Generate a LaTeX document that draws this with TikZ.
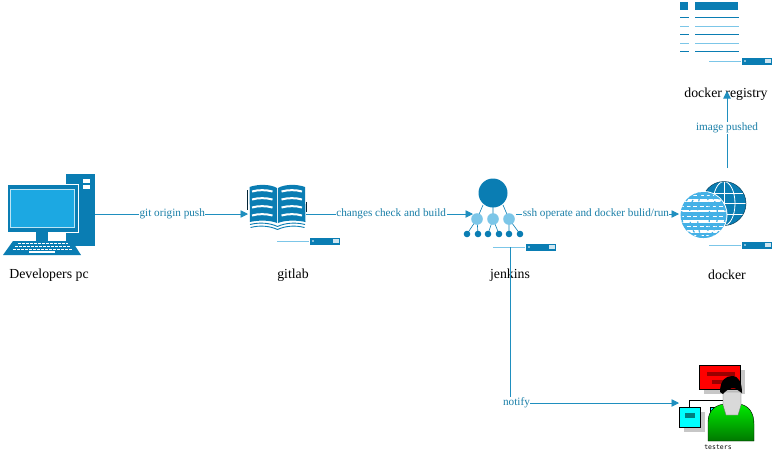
\documentclass[tikz,border=0pt]{standalone}
\usepackage{fontspec}
\setmainfont{Liberation Serif}
\newfontfamily\tinymono{DejaVu Sans Mono}
\usetikzlibrary{arrows.meta,shadings}
\definecolor{dkblue}{HTML}{0A7DB3}
\definecolor{ltblue}{HTML}{7CC6E8}
\definecolor{scrblue}{HTML}{1CA8E2}
\definecolor{globelt}{HTML}{45B1E6}
\definecolor{wire}{HTML}{1F8FBF}
\definecolor{labelc}{HTML}{1A7FA8}
\definecolor{purecyan}{RGB}{0,255,255}
\definecolor{purered}{RGB}{255,0,0}
\definecolor{puregreen}{RGB}{0,235,0}
\definecolor{darkgreen}{RGB}{0,120,0}
\tikzset{
  anchorbox/.style={inner sep=0pt,outer sep=0pt},
  title/.style={font=\fontsize{13.8}{15}\selectfont,text=black,inner sep=0pt},
  wirelink/.style={draw=wire,line width=0.9pt,-{Triangle[length=7.5pt,width=7.5pt]}},
  wirelabel/.style={font=\fontsize{11.2}{12}\selectfont,text=labelc,fill=white,inner sep=0.5pt},
  srvline/.style={draw=ltblue,line width=1pt},
  srvbox/.style={fill=dkblue},
}
\newcommand{\srvicon}[2]{% left of line, y
  \draw[srvline] (#1,#2) -- +(32,0);
  \fill[srvbox] (#1+33,#2-3.5) rectangle +(29.5,7);
  \fill[white] (#1+36,#2) circle (0.8);
  \fill[white!80!dkblue] (#1+55.5,#2-1.6) rectangle +(6,1.2);
  \fill[white!80!dkblue] (#1+55.5,#2+0.4) rectangle +(6,1.2);
}
\begin{document}
\begin{tikzpicture}[x=1pt,y=-1pt]
\useasboundingbox (0,0) rectangle (776,456);
\fill[white] (0,0) rectangle (776,456);

% ---------- PC
\fill[dkblue] (66,174) rectangle (95,246);
\fill[white] (83,179) rectangle (90,182.5);
\fill[white] (83,185) rectangle (90,188.5);
\fill[dkblue,draw=white,line width=0.7pt] (7,184) rectangle (78.5,232);
\fill[scrblue,draw=white!70!scrblue,line width=0.8pt] (10.5,189) rectangle (74,227);
\fill[dkblue] (36,232) rectangle (48,241);
\fill[dkblue] (13,241) -- (72,241) -- (81,255) -- (3,255) -- cycle;
\foreach \yy/\xa/\xb in {243.5/18/68,246.5/15/71,249.5/13/73}
  \draw[white,line width=1.5pt,dash pattern=on 3pt off 1pt] (\xa,\yy) -- (\xb,\yy);
\fill[white] (29,250.5) rectangle (55,252.5);

% ---------- Book
\fill[dkblue] (249.5,187) .. controls (258,184) and (270,184) .. (277,188) -- (277,223) .. controls (270,220) and (258,220) .. (250,222) -- cycle;
\fill[dkblue] (278,188) .. controls (285,184) and (297,184) .. (305,187) -- (305.5,222) .. controls (297,220) and (285,220) .. (278,223) -- cycle;
\foreach \yy in {191.5,199.5,207.5,215.5} {
  \draw[white,line width=2pt] (252,\yy) .. controls (258,\yy-1.8) and (266,\yy-1.8) .. (272.5,\yy);
  \draw[white,line width=2pt] (281.5,\yy) .. controls (288,\yy-1.8) and (296,\yy-1.8) .. (302,\yy);
}
\draw[dkblue,line width=0.9pt] (250,224.5) .. controls (260,222) and (270,223) .. (277.5,226.5) .. controls (285,223) and (295,222) .. (305,224.5);
\draw[dkblue,line width=0.9pt] (250.5,227.5) .. controls (260,225) and (270,226) .. (277.5,229.5) .. controls (285,226) and (295,225) .. (304.5,227.5);
\draw[black!70!dkblue,line width=1pt] (247.5,190) -- (247.5,210);
\draw[black!70!dkblue,line width=1pt] (306.5,202) -- (306.5,212);
\srvicon{277}{241}

% ---------- Jenkins
\draw[dkblue,line width=0.6pt]
  (483,205) -- (477,219) (493,205) -- (493,219) (503,205) -- (509,219)
  (477,219) -- (467,234) (477,219) -- (478,234)
  (493,219) -- (488,234) (493,219) -- (499,234)
  (509,219) -- (509,234) (509,219) -- (520,234);
\fill[dkblue] (493,193) circle (14.5);
\foreach \xx in {477,493,509} \fill[ltblue] (\xx,219) circle (5.8);
\foreach \xx in {467,478,488,499,509,520} \fill[dkblue] (\xx,234) circle (3.3);
\srvicon{493}{247}

% ---------- Docker globes
\begin{scope}
  \fill[dkblue] (724,203.5) circle (22);
  \clip (724,203.5) circle (22);
  \draw[white,line width=0.8pt] (724,181) -- (724,226) (702,203.5) -- (746,203.5);
  \draw[white,line width=0.8pt] (702,193) -- (746,193) (702,214) -- (746,214);
  \draw[white,line width=0.8pt] (724,203.5) ellipse [x radius=11,y radius=22];
\end{scope}
\draw[black!50!dkblue,line width=0.5pt] (724,203.5) circle (22);
\begin{scope}
  \fill[white] (703.5,215) circle (24);
  \fill[globelt] (703.5,215) circle (23);
  \clip (703.5,215) circle (23);
  \foreach \yy in {200.5,211,221.5,231.5}
    \draw[white,line width=2.6pt] (680,\yy) -- (727,\yy);
  \foreach \yy in {195,206,216,226,235}
    \draw[white,line width=1pt,dash pattern=on 4pt off 2.5pt] (680,\yy) -- (727,\yy);
  \foreach \rr in {6,14,22}
    \draw[globelt,line width=1.2pt,dash pattern=on 2.5pt off 2pt] (703.5,215) ellipse [x radius=\rr,y radius=23];
\end{scope}
\srvicon{709}{245}

% ---------- Registry
\fill[dkblue] (680,2) rectangle (688,10);
\fill[dkblue] (695,2) rectangle (738,10);
\foreach \yy/\cl in {17/dkblue,26/ltblue,34/dkblue,43/ltblue,51/dkblue} {
  \draw[\cl,line width=1pt] (680,\yy) -- (689,\yy);
  \draw[\cl,line width=1pt] (695,\yy) -- (739,\yy);
}
\srvicon{709}{61}

% ---------- Testers
\fill[black!22] (704,370) rectangle (745,394);
\fill[purered,draw=black,line width=0.5pt] (699.5,365.5) rectangle (740.5,389);
\fill[purered!60!black] (707,372) rectangle (735,376);
\fill[purered!60!black] (712,380) rectangle (730,384);
\draw[black,line width=0.6pt] (689,407) -- (689,400) -- (725,400) -- (725,407);
\fill[black!22] (684,412) rectangle (705,432);
\fill[purecyan,draw=black,line width=0.5pt] (679.5,407.5) rectangle (700,427);
\fill[purecyan!50!black] (685,413) rectangle (695,418);
\fill[black!22] (715,412) rectangle (736,432);
\fill[purecyan,draw=black,line width=0.5pt] (710,407.5) rectangle (731,427);
\shade[top color=puregreen,bottom color=darkgreen,draw=black,line width=0.4pt]
  (708,441) -- (708,422) .. controls (708,410) and (716,405) .. (724,404) -- (739,404) .. controls (748,405) and (754,412) .. (754,424) -- (754,441) -- cycle;
\fill[black!15,draw=black!60,line width=0.3pt] (723,392) -- (741,392) -- (741,405) -- (738,415) -- (726,415) -- (723,405) -- cycle;
\fill[black] (720,392) .. controls (720,380) and (726,376) .. (732,376) .. controls (739,376) and (742,383) .. (742,393) -- (739,391) .. controls (735,386) and (728,388) .. (723,394) -- cycle;
\node[anchorbox,font=\tinymono\fontsize{6.5}{7}\selectfont] (testerslabel) at (718,447) {testers};

% ---------- Anchors
\node[anchorbox,minimum width=92pt,minimum height=80pt] (pc) at (49,214) {};
\node[anchorbox,minimum width=58pt,minimum height=20pt] (gitlab) at (277,214) {};
\node[anchorbox,minimum width=2pt,minimum height=4pt] (jenkinsin) at (474,214) {};
\node[anchorbox,minimum width=2pt,minimum height=4pt] (jenkinsout) at (515,214) {};
\coordinate (jenkinsdown) at (510,247);
\node[anchorbox,minimum width=2pt,minimum height=4pt] (dockerin) at (680,214) {};
\coordinate (dockerup) at (727,168);
\coordinate (registryin) at (727,91);
\node[anchorbox,minimum width=2pt,minimum height=4pt] (testersin) at (680,403) {};

% ---------- Titles
\node[title] (pctitle) at (49,275) {Developers pc};
\node[title] (gitlabtitle) at (293,275) {gitlab};
\node[title] (jenkinstitle) at (510,275) {jenkins};
\node[title] (dockertitle) at (727,275) {docker};
\node[title] (registrytitle) at (726,94) {docker registry};

% ---------- Connectors
\draw[wirelink] (pc.east) -- node[wirelabel,pos=0.505,yshift=0.5pt] {git origin push} (gitlab.west);
\draw[wirelink] (gitlab.east) -- node[wirelabel,pos=0.51,yshift=0.5pt] {changes check and build} (jenkinsin.west);
\draw[wirelink] (jenkinsout.east) -- node[wirelabel,pos=0.49,yshift=0.5pt] {ssh operate and docker bulid/run} (dockerin.west);
\draw[wirelink] (dockerup) -- node[wirelabel,pos=0.52] {image pushed} (registryin);
\draw[wirelink] (jenkinsdown) |- node[wirelabel,pos=0.5,xshift=6.5pt] {notify} (testersin.west);
\end{tikzpicture}
\end{document}
